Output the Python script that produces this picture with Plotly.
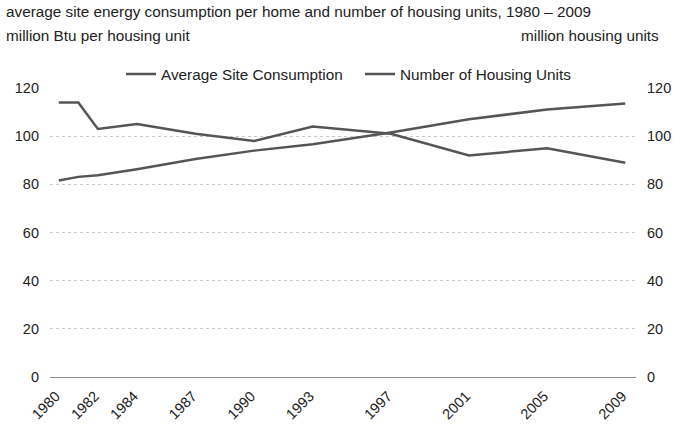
import plotly.graph_objects as go

years = [1980, 1981, 1982, 1984, 1987, 1990, 1993, 1997, 2001, 2005, 2009]
avg_consumption = [114, 114, 103, 105, 101, 98, 104, 101, 92, 95, 89]
housing_units = [81.6, 83.1, 83.8, 86.3, 90.5, 94.0, 96.6, 101.5, 107.0, 111.1, 113.6]
tick_years = [1980, 1982, 1984, 1987, 1990, 1993, 1997, 2001, 2005, 2009]
y_ticks = [0, 20, 40, 60, 80, 100, 120]

FONT = "Liberation Sans, Arial, sans-serif"
TXT = "#222222"
L, R, T, B = 50, 39, 88, 49
W, H = 675, 426
pw, ph = W - L - R, H - T - B

def px(x):
    return (x - L) / pw

def py(y):
    return (H - B - y) / ph

fig = go.Figure()
fig.add_trace(go.Scatter(x=years, y=avg_consumption, mode="lines",
                         name="Average Site Consumption",
                         line=dict(color="#555555", width=2.5)))
fig.add_trace(go.Scatter(x=years, y=housing_units, mode="lines",
                         name="Number of Housing Units", yaxis="y2",
                         line=dict(color="#555555", width=2.5)))

fig.update_layout(
    width=W, height=H,
    margin=dict(l=L, r=R, t=T, b=B, autoexpand=False),
    paper_bgcolor="white", plot_bgcolor="white",
    font=dict(family=FONT, size=15.3, color=TXT),
    showlegend=True,
    legend=dict(orientation="h", x=px(121), xanchor="left",
                y=py(74), yanchor="middle", itemwidth=30,
                entrywidth=194, entrywidthmode="pixels",
                font=dict(size=15.3, color=TXT), bgcolor="rgba(0,0,0,0)"),
    xaxis=dict(range=[1979.55, 2009.55], tickmode="array", tickvals=tick_years,
               ticktext=[str(y) for y in tick_years], tickangle=-45,
               showgrid=False, zeroline=False, showline=False, ticks="",
               ticklabelstandoff=7, ticklabelshift=-3,
               automargin=False, tickfont=dict(size=14.5, color=TXT)),
    yaxis=dict(range=[0, 120], tickvals=y_ticks, showgrid=True,
               gridcolor="#c8c8c8", griddash="dot", gridwidth=1,
               zeroline=True, zerolinecolor="#8a8a8a", zerolinewidth=1.2,
               showline=False, ticks="", ticklabelstandoff=10, automargin=False,
               tickfont=dict(size=14.5, color=TXT)),
    yaxis2=dict(range=[0, 120], tickvals=y_ticks, overlaying="y", side="right",
                showgrid=False, zeroline=False, showline=False, ticks="",
                ticklabelstandoff=10, automargin=False,
                tickfont=dict(size=14.5, color=TXT)),
    annotations=[
        dict(text="average site energy consumption per home and number of housing units, 1980 \u2013 2009",
             xref="paper", yref="paper", x=px(4), y=py(12), xanchor="left", yanchor="middle",
             showarrow=False, font=dict(size=15.3, color=TXT)),
        dict(text="million Btu per housing unit",
             xref="paper", yref="paper", x=px(4), y=py(36), xanchor="left", yanchor="middle",
             showarrow=False, font=dict(size=15.3, color=TXT)),
        dict(text="million housing units",
             xref="paper", yref="paper", x=px(661), y=py(36), xanchor="right", yanchor="middle",
             showarrow=False, font=dict(size=15.3, color=TXT)),
    ],
)

fig.write_html("out.html", config={"displayModeBar": False},
               post_script="document.body.style.margin='0px';")
